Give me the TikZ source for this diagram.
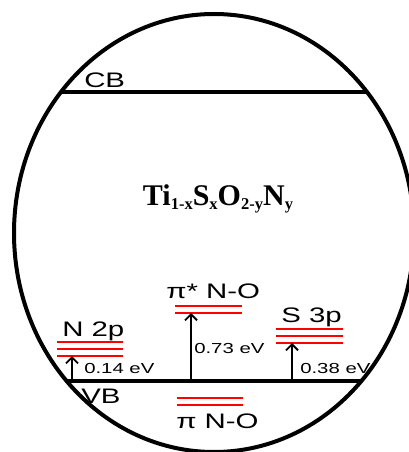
\documentclass[tikz,border=0pt]{standalone}
\usepackage{fontspec}
\setmainfont{Liberation Sans}
\newfontfamily\bandfont[FakeStretch=1.4]{Liberation Sans}
\newfontfamily\formulafont{Liberation Serif}
\usetikzlibrary{arrows.meta}
\tikzset{
  edge/.style={line width=3pt},
  band/.style={line width=2.4pt},
  level/.style={draw=red, line width=1.3pt},
  lift/.style={-{Straight Barb[length=4.5pt,width=9pt,line width=1.4pt]}, line width=1.6pt},
  tag/.style={anchor=base west, inner sep=0pt, font=\bandfont\fontsize{15.75}{18}\selectfont},
  gap/.style={anchor=base west, inner sep=0pt, font=\bandfont\fontsize{10.9}{12}\selectfont},
}
\newcommand{\subtxt}[1]{\raisebox{-3.4pt}{\fontsize{12.4}{14}\selectfont #1}}

\begin{document}
\begin{tikzpicture}[x=0.75pt, y=-0.75pt]
  \useasboundingbox (0,0) rectangle (409,452);

  % outer crystal
  \draw[edge] (214,233) ellipse [x radius=200, y radius=219];
  \begin{scope}
    \clip (214,233) ellipse [x radius=200, y radius=219];
    \draw[band] (0,92) -- (409,92);
    \draw[line width=3pt] (0,381) -- (409,381);
  \end{scope}

  \node[tag] (cb) at (84,88) {CB};
  \node[tag] (vb) at (81,403) {VB};
  \node[anchor=base, inner sep=0pt, font=\formulafont\bfseries\fontsize{22.5}{26}\selectfont]
    (formula) at (218,205) {Ti\subtxt{1-x}S\subtxt{x}O\subtxt{2-y}N\subtxt{y}};

  % impurity levels
  \foreach \y in {342,349,356} \draw[level] (57,\y) -- (123,\y);
  \foreach \y in {306,313} \draw[level] (175,\y) -- (242,\y);
  \foreach \y in {329,336,343} \draw[level] (276,\y) -- (343,\y);
  \foreach \y in {398,405} \draw[level] (177,\y) -- (243,\y);

  \node[tag] (n2p) at (62,336) {N 2p};
  \node[tag] (pistar) at (166,298) {π* N-O};
  \node[tag] (s3p) at (281,322) {S 3p};
  \node[tag] (pi) at (176,428) {π N-O};

  \coordinate (vbN) at (72,381);   \coordinate (topN) at (72,356);
  \coordinate (vbP) at (191,381);  \coordinate (topP) at (191,313);
  \coordinate (vbS) at (292,381);  \coordinate (topS) at (292,343);
  \draw[lift] (vbN) -- (topN);
  \draw[lift] (vbP) -- (topP);
  \draw[lift] (vbS) -- (topS);

  \node[gap] (eN) at (84,373) {0.14 eV};
  \node[gap] (eP) at (194,353) {0.73 eV};
  \node[gap] (eS) at (300,373) {0.38 eV};
\end{tikzpicture}
\end{document}
